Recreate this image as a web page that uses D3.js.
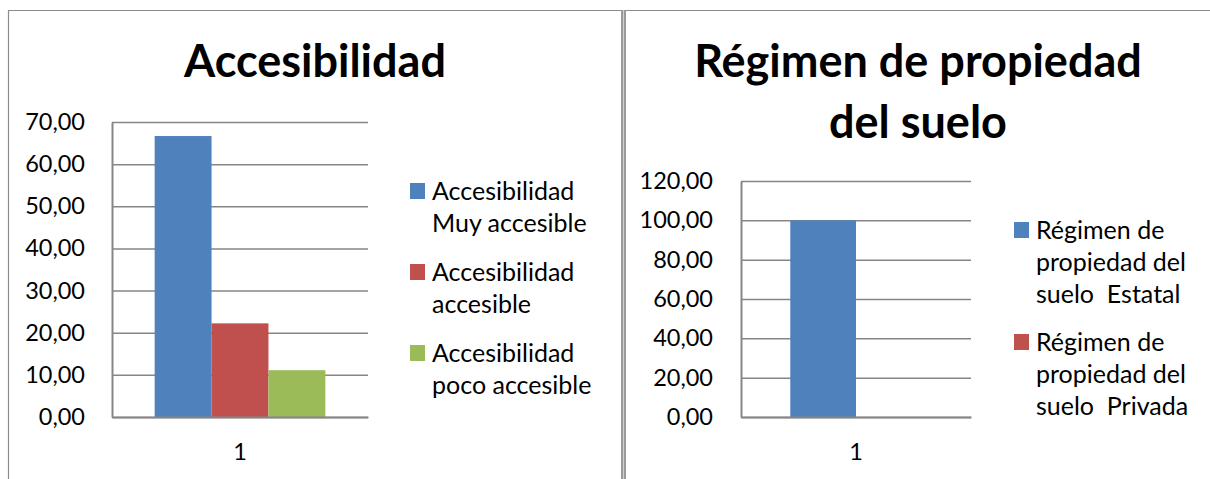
<!DOCTYPE html>
<html>
<head>
<meta charset="utf-8">
<script src="https://cdn.jsdelivr.net/npm/d3@7"></script>
<style>
  html, body { margin: 0; padding: 0; background: #fff; }
  svg { display: block; }
  text { font-family: Lato, "Open Sans", sans-serif; fill: #000; }
</style>
</head>
<body>
<svg id="chart" width="1210" height="479"></svg>
<script>
// ---------- data ----------
const categories = ["1"];

const accesTitle = ["Accesibilidad"];
const accesSeries = ["Accesibilidad\nMuy accesible", "Accesibilidad\naccesible", "Accesibilidad\npoco accesible"];
const accesValues = [66.67, 22.22, 11.11];
const accesTicks = [0, 10, 20, 30, 40, 50, 60, 70];

const regimenTitle = ["Régimen de propiedad", "del suelo"];
const regimenSeries = ["Régimen de\npropiedad del\nsuelo  Estatal", "Régimen de\npropiedad del\nsuelo  Privada"];
const regimenValues = [100, 0];
const regimenTicks = [0, 20, 40, 60, 80, 100, 120];

const colors = ["#4F81BD", "#C0504D", "#9BBB59"];

// ---------- drawing ----------
const svg = d3.select("#chart");
const fmt = d => d.toFixed(2).replace(".", ",");

// frame lines
svg.append("line").attr("x1", 8).attr("x2", 1210).attr("y1", 10.5).attr("y2", 10.5)
  .attr("stroke", "#8c8c8c").attr("stroke-width", 1.2);
svg.append("line").attr("x1", 8.5).attr("x2", 8.5).attr("y1", 10).attr("y2", 479)
  .attr("stroke", "#8c8c8c").attr("stroke-width", 1.2);
svg.append("rect").attr("x", 621).attr("y", 10).attr("width", 5).attr("height", 469).attr("fill", "#9a9a9a");
svg.append("rect").attr("x", 623).attr("y", 10).attr("width", 1).attr("height", 469).attr("fill", "#cfcfcf");

function drawChart(cfg) {
  const g = svg.append("g");
  // title
  g.selectAll("text.title").data(cfg.title).join("text")
    .attr("class", "title")
    .attr("x", cfg.titleX)
    .attr("y", (d, i) => cfg.titleY + i * cfg.titleLine)
    .attr("text-anchor", "middle")
    .attr("font-weight", "bold")
    .attr("font-size", cfg.titleSize)
    .text(d => d);

  const y = d3.scaleLinear().domain([0, d3.max(cfg.ticks)]).range([cfg.y0, cfg.yTop]);
  const x = d3.scaleBand().domain(categories).range([cfg.x0, cfg.x1]).padding(0);
  const xi = d3.scaleBand().domain(cfg.series).range([0, x.bandwidth()])
    .paddingInner(0).paddingOuter(0.75);

  // gridlines
  const grid = g.append("g").attr("transform", `translate(${cfg.x0},0)`)
    .call(d3.axisLeft(y).tickValues(cfg.ticks).tickSize(-(cfg.x1 - cfg.x0)).tickFormat(""));
  grid.select(".domain").remove();
  grid.selectAll("line").attr("stroke", "#868686").attr("stroke-width", 1.5);

  // bars
  const cat = g.selectAll("g.cat").data(categories).join("g")
    .attr("class", "cat")
    .attr("transform", d => `translate(${x(d)},0)`);
  cat.selectAll("rect").data(cfg.series.map((s, i) => ({ s, v: cfg.values[i], i })))
    .join("rect")
    .attr("x", d => xi(d.s))
    .attr("width", xi.bandwidth())
    .attr("y", d => y(d.v))
    .attr("height", d => y(0) - y(d.v))
    .attr("fill", d => colors[d.i]);

  // y axis
  const ya = g.append("g").attr("transform", `translate(${cfg.x0},0)`)
    .call(d3.axisLeft(y).tickValues(cfg.ticks).tickSize(0).tickPadding(cfg.tickPad).tickFormat(fmt));
  ya.select(".domain").attr("stroke", "#868686").attr("stroke-width", 2);
  ya.selectAll("text").attr("font-size", cfg.tickSize).attr("font-family", "Lato").attr("fill", "#000");

  // x axis
  const xa = g.append("g").attr("transform", `translate(0,${cfg.y0})`)
    .call(d3.axisBottom(x).tickSize(0).tickPadding(26));
  xa.select(".domain").attr("stroke", "#868686").attr("stroke-width", 2);
  xa.selectAll("text").attr("font-size", cfg.tickSize).attr("font-family", "Lato").attr("fill", "#000");

  // legend
  let yy = cfg.legY;
  cfg.series.forEach((s, i) => {
    const lines = s.split("\n");
    g.append("rect").attr("x", cfg.legX).attr("y", yy - 8).attr("width", 15).attr("height", 16)
      .attr("fill", colors[i]);
    lines.forEach((ln, j) => {
      g.append("text").attr("x", cfg.legX + 22).attr("y", yy + j * cfg.legLine)
        .attr("dy", "0.35em").attr("font-size", cfg.legSize)
        .style("white-space", "pre").text(ln);
    });
    yy += lines.length * cfg.legLine + cfg.legGap;
  });
}

drawChart({
  title: accesTitle, titleX: 315, titleY: 77, titleLine: 61, titleSize: 45,
  series: accesSeries, values: accesValues, ticks: accesTicks,
  x0: 112, x1: 368, yTop: 122, y0: 417, tickPad: 27, tickSize: 23.5, legSize: 25,
  legX: 410, legY: 191, legLine: 32.5, legGap: 16
});

drawChart({
  title: regimenTitle, titleX: 918, titleY: 77, titleLine: 61, titleSize: 45,
  series: regimenSeries, values: regimenValues, ticks: regimenTicks,
  x0: 741, x1: 971, yTop: 181, y0: 417, tickPad: 28, tickSize: 23.5, legSize: 25,
  legX: 1014, legY: 230, legLine: 32, legGap: 16
});
</script>
</body>
</html>
